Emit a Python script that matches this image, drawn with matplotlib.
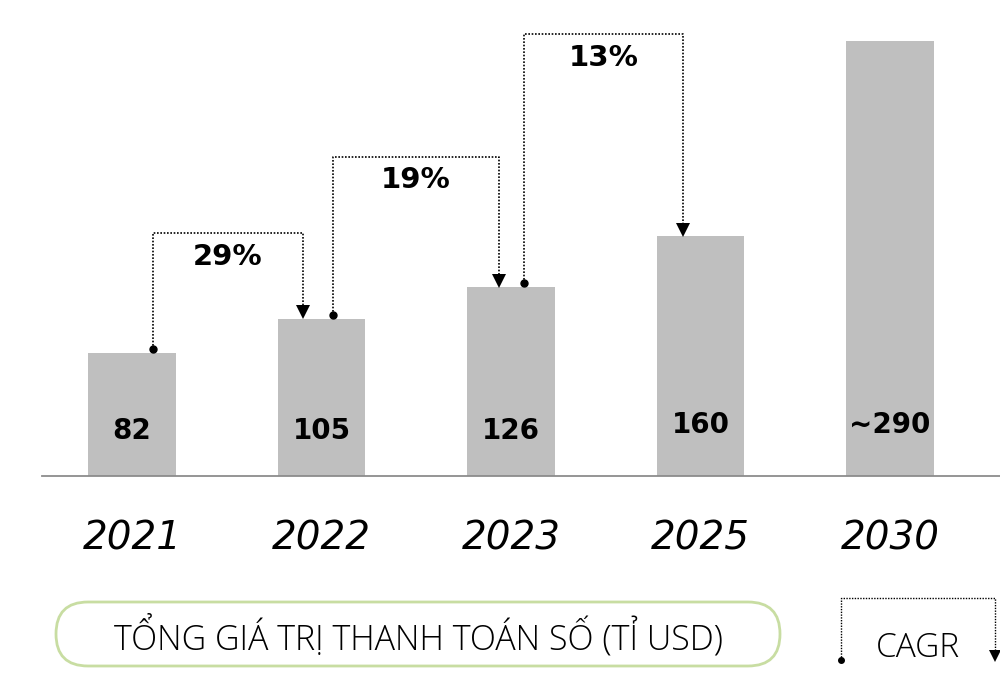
import matplotlib
matplotlib.use("Agg")
import matplotlib.pyplot as plt
from matplotlib.patches import FancyBboxPatch

# ---- data ----
years = ["2021", "2022", "2023", "2025", "2030"]
values = [82, 105, 126, 160, 290]
value_labels = ["82", "105", "126", "160", "~290"]
cagr_labels = ["29%", "19%", "13%"]
cagr_pairs = [(0, 1), (1, 2), (2, 3)]
legend_text = "TỔNG GIÁ TRỊ THANH TOÁN SỐ (TỈ USD)"
legend_cagr = "CAGR"

# ---- layout ----
W, H = 1000, 676
baseline_px = 476
px_per_unit = 1.5
bar_center0_px = 132
bar_step_px = 189.5
bar_width = 0.46
connector_top = [162, 213, 295]      # data units
dot_offsets = [0.11, 0.06, 0.07]
arrow_offsets = [-0.10, -0.065, -0.09]
label_y = [30, 30, 30, 34, 34]       # data units
bar_color = "#bfbfbf"
BOLD = ["DejaVu Sans"]
LIGHT = ["Open Sans", "DejaVu Sans"]

fig = plt.figure(figsize=(W / 100, H / 100), dpi=100)

ax = fig.add_axes([0, (H - baseline_px) / H, 1, baseline_px / H])
ax.set_xlim(-bar_center0_px / bar_step_px, (W - bar_center0_px) / bar_step_px)
ax.set_ylim(0, baseline_px / px_per_unit)
ax.axis("off")

xs = list(range(len(years)))
ax.bar(xs, values, width=bar_width, color=bar_color, zorder=1)

for x, lab, y in zip(xs, value_labels, label_y):
    ax.text(x, y, lab, ha="center", va="center", fontsize=20,
            fontweight="bold", family=BOLD, color="black", zorder=3)

ax.plot([(42 - bar_center0_px) / bar_step_px, (W - bar_center0_px) / bar_step_px],
        [0, 0], color="#8c8c8c", lw=1.3, clip_on=False, zorder=2)

u = 1 / px_per_unit
for (i, j), top, lab, do, ao in zip(cagr_pairs, connector_top, cagr_labels,
                                     dot_offsets, arrow_offsets):
    x0 = xs[i] + do
    x1 = xs[j] + ao
    y0 = values[i] + 4 * u
    y1 = values[j]
    ax.plot([x0, x0, x1, x1], [y0, top, top, y1 + 8 * u],
            color="black", lw=1.2, linestyle=(0, (1, 1)), zorder=4)
    ax.plot([x0], [y0], marker="o", ms=5, color="black", zorder=5)
    ax.plot([x1], [y1 + 6.5 * u], marker="v", ms=10, color="black",
            markeredgewidth=0, zorder=5)
    ax.text((x0 + x1) / 2, top - 24 * u, lab, ha="center", va="center",
            fontsize=21, fontweight="bold", family=BOLD)

# ---- overlay (pixel coordinates) ----
ov = fig.add_axes([0, 0, 1, 1], zorder=-1)
ov.set_xlim(0, W)
ov.set_ylim(H, 0)
ov.axis("off")

for x, yr in zip(xs, years):
    ov.text(bar_center0_px + x * bar_step_px, 539, yr, ha="center", va="center",
            fontsize=28, style="italic", family=["DejaVu Sans"])

box = FancyBboxPatch((56, 602), 724, 64,
                     boxstyle="round,pad=0,rounding_size=32",
                     fc="white", ec="#c8dda2", lw=2)
ov.add_patch(box)
ov.text(418, 636, legend_text, ha="center", va="center", fontsize=24.5,
        fontweight="light", family=LIGHT)

ov.plot([841, 841, 995, 995], [657, 598, 598, 650], color="black", lw=1.0,
        linestyle=(0, (1, 1)))
ov.plot([841], [660], marker="o", ms=4, color="black")
ov.plot([995], [656], marker="v", ms=9, color="black", markeredgewidth=0)
ov.text(918, 648, legend_cagr, ha="center", va="center", fontsize=24,
        fontweight="light", family=LIGHT)

fig.savefig("out.png", dpi=100)
